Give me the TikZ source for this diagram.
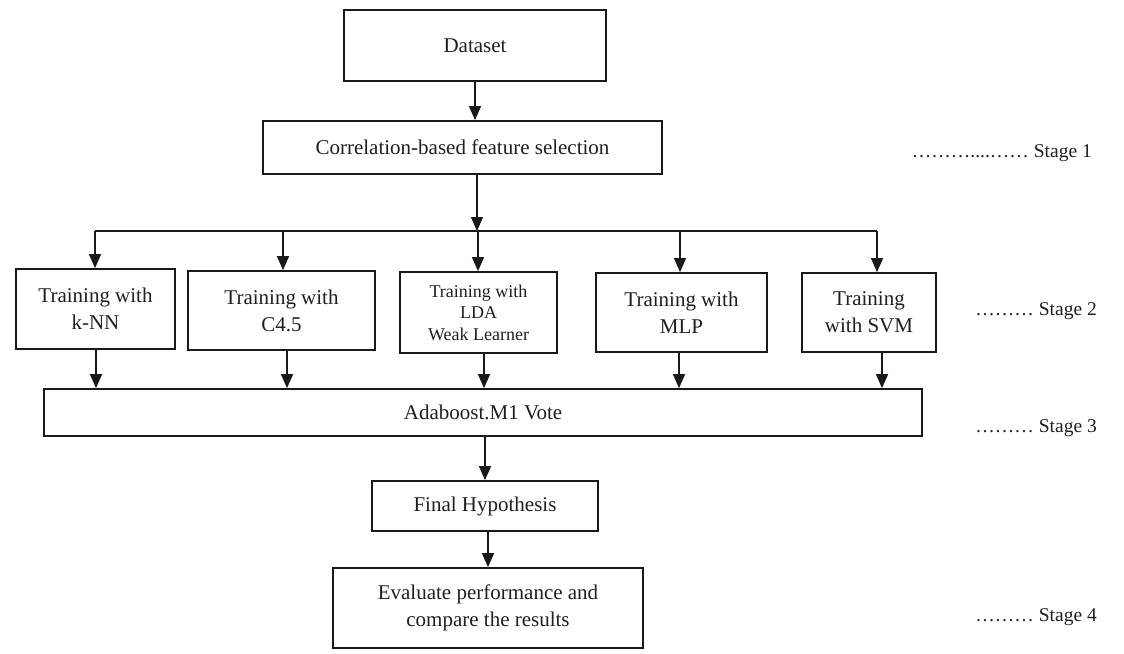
\documentclass[tikz,border=0pt]{standalone}
\usepackage{fontspec}
\setmainfont{Liberation Serif}
\usetikzlibrary{arrows.meta}
\begin{document}
\begin{tikzpicture}[x=1pt,y=-1pt,
  box/.style={draw=black!90, line width=1.7pt, inner sep=2pt, align=center,
    font=\fontsize{21}{27}\selectfont, text=black!88},
  smallbox/.style={box, font=\fontsize{18}{21.5}\selectfont},
  arr/.style={draw=black!90, line width=1.3pt, -{Triangle[length=14pt,width=12pt]}},
  bus/.style={draw=black!90, line width=1.3pt},
  stagelbl/.style={anchor=east, inner sep=0pt, font=\fontsize{19.5}{22}\selectfont, text=black!88}]
\useasboundingbox (0,0) rectangle (1124,653);

% pipeline boxes
\node[box, minimum width=262pt, minimum height=71pt] (data) at (475,45.5) {Dataset};
\node[box, minimum width=399pt, minimum height=53pt] (corr) at (462.5,147.5) {Correlation-based feature selection};

\node[box, minimum width=159pt, minimum height=80pt] (knn) at (95.5,309) {Training with\\k-NN};
\node[box, minimum width=187pt, minimum height=79pt] (c45) at (281.5,310.5) {Training with\\C4.5};
\node[smallbox, minimum width=157pt, minimum height=81pt] (lda) at (478.5,312.5) {Training with\\LDA\\Weak Learner};
\node[box, minimum width=171pt, minimum height=79pt] (mlp) at (681.5,312.5) {Training with\\MLP};
\node[box, minimum width=134pt, minimum height=79pt] (svm) at (869,312.5) {Training\\with SVM};

\node[box, minimum width=878pt, minimum height=47pt] (ada) at (483,412.5) {Adaboost.M1 Vote};
\node[box, minimum width=226pt, minimum height=50pt] (fin) at (485,506) {Final Hypothesis};
\node[box, minimum width=310pt, minimum height=80pt] (eval) at (488,608) {Evaluate performance and\\compare the results};

% stage labels
\node[stagelbl] (s1) at (1092,153) {………....…… Stage 1};
\node[stagelbl] (s2) at (1097,311) {……… Stage 2};
\node[stagelbl] (s3) at (1097,428) {……… Stage 3};
\node[stagelbl] (s4) at (1097,617) {……… Stage 4};

% distribution bus
\coordinate (j)  at (477,231);
\coordinate (b1) at (95,231);
\coordinate (b2) at (283,231);
\coordinate (b3) at (478,231);
\coordinate (b4) at (680,231);
\coordinate (b5) at (877,231);

% drop points onto the vote box
\coordinate (d1) at (96,0);
\coordinate (d2) at (287,0);
\coordinate (d3) at (484,0);
\coordinate (d4) at (679,0);
\coordinate (d5) at (882,0);

\draw[arr] (data.south) -- (data.south |- corr.north);
\draw[arr] (corr.south -| j) -- (j);
\draw[bus] (b1) -- (b5);
\draw[arr] (b1) -- (b1 |- knn.north);
\draw[arr] (b2) -- (b2 |- c45.north);
\draw[arr] (b3) -- (b3 |- lda.north);
\draw[arr] (b4) -- (b4 |- mlp.north);
\draw[arr] (b5) -- (b5 |- svm.north);

\draw[arr] (knn.south -| d1) -- (d1 |- ada.north);
\draw[arr] (c45.south -| d2) -- (d2 |- ada.north);
\draw[arr] (lda.south -| d3) -- (d3 |- ada.north);
\draw[arr] (mlp.south -| d4) -- (d4 |- ada.north);
\draw[arr] (svm.south -| d5) -- (d5 |- ada.north);

\draw[arr] (ada.south -| fin.north) -- (fin.north);
\draw[arr] (fin.south -| eval.north) -- (eval.north);
\end{tikzpicture}
\end{document}
